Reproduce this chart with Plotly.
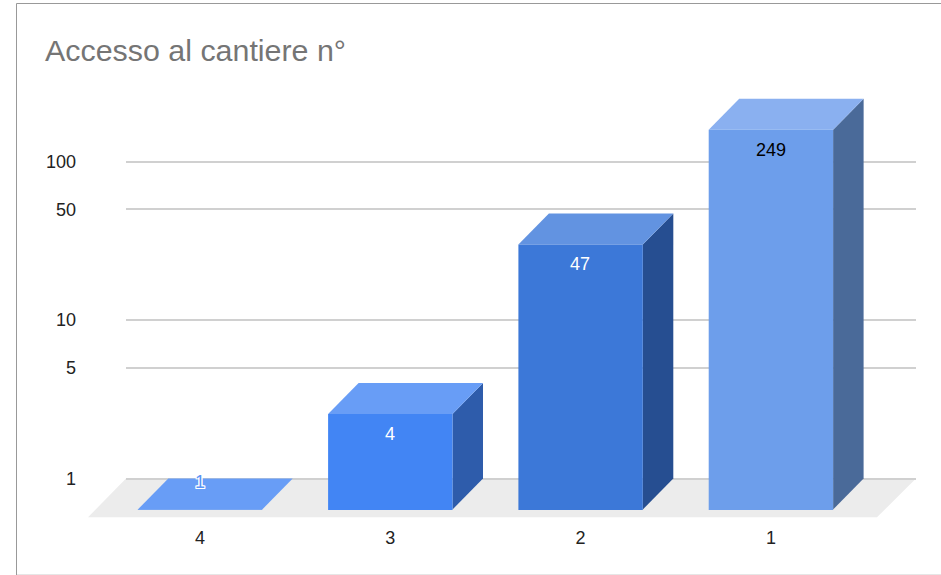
# plot.py
# Accesso al cantiere n° : colonne 3D finte su scala logaritmica
import math

import plotly.graph_objects as go

CATEGORIES = ["4", "3", "2", "1"]
VALUES = [1, 4, 47, 249]
Y_TICKS = [1, 5, 10, 50, 100]

FRONT_COLORS = ["#4285f4", "#4285f4", "#3c78d8", "#6d9eeb"]
TOP_COLORS = ["#689df6", "#689df6", "#6293e1", "#8ab0f0"]
SIDE_COLORS = ["#2e5cab", "#2e5cab", "#264e91", "#4a6a99"]
LABEL_COLORS = ["#5b95f5", "#ffffff", "#ffffff", "#000000"]

W, H = 941, 575
FONT = "Liberation Sans, Arial, sans-serif"

# geometria in pixel della finestra
STEP_X = 190.3       # distanza fra le categorie
DECADE = 158.5       # pixel per decade
FRONT_X0, FRONT_Y1 = 200.0, 509.5   # categoria 0 e valore 1 sul piano frontale
DEPTH_X, DEPTH_Y = 30.5, 31.0       # profondità delle colonne
BAR_WIDTH = 124.4 / STEP_X


def fx(px):
    return px / W


def fy(py):
    return 1 - py / H


# ogni riquadro: piano di fondo (griglia, facce) e piano frontale (colonne)
back_left, back_right, back_top, back_bottom = 126, 916, 90, 520
front_left, front_right, front_top, front_bottom = 88, 916, 90, 510

back_x0 = FRONT_X0 + DEPTH_X
back_y1 = FRONT_Y1 - DEPTH_Y
dx = DEPTH_X / STEP_X
log_dy = DEPTH_Y / DECADE

fig = go.Figure()

# facce superiori e laterali, sul piano di fondo
for i, value in enumerate(VALUES):
    left, right = i - BAR_WIDTH / 2, i + BAR_WIDTH / 2
    front_value = value / 10 ** log_dy
    base_back = 1
    base_front = 1 / 10 ** log_dy
    fig.add_trace(go.Scatter(
        x=[right - dx, right, right, right - dx, right - dx],
        y=[base_front, base_back, value, front_value, base_front],
        mode="lines", fill="toself", fillcolor=SIDE_COLORS[i],
        line=dict(width=0), hoverinfo="skip", showlegend=False,
    ))
    fig.add_trace(go.Scatter(
        x=[left - dx, left, right, right - dx, left - dx],
        y=[front_value, value, value, front_value, front_value],
        mode="lines", fill="toself", fillcolor=TOP_COLORS[i],
        line=dict(width=0), hoverinfo="skip", showlegend=False,
    ))

# facce frontali, sul piano frontale
fig.add_trace(go.Bar(
    x=list(range(len(VALUES))),
    y=VALUES,
    xaxis="x2",
    yaxis="y2",
    width=BAR_WIDTH,
    marker=dict(color=FRONT_COLORS, line=dict(width=0)),
    showlegend=False,
    hovertemplate="%{y}<extra></extra>",
))

# etichette dei valori (per il valore 1 il testo sta sulla faccia superiore)
for i, value in enumerate(VALUES):
    shift = 27.5 if value == 1 else -20
    font = dict(family=FONT, size=18, color=LABEL_COLORS[i])
    if value == 1:
        font["shadow"] = (
            "1px 0 0 #ffffff, -1px 0 0 #ffffff, 0 1px 0 #ffffff, 0 -1px 0 #ffffff, "
            "1px 1px 0 #ffffff, -1px -1px 0 #ffffff, 1px -1px 0 #ffffff, -1px 1px 0 #ffffff"
        )
    fig.add_annotation(
        x=i - 0.002, y=math.log10(value), xref="x2", yref="y2",
        text=str(value), showarrow=False, yshift=shift, font=font,
    )

# pavimento e cornice
floor_path = (
    f"M {fx(back_left)} {fy(back_y1)} L {fx(916)} {fy(back_y1)} "
    f"L {fx(877)} {fy(517.3)} L {fx(88)} {fy(517.3)} Z"
)
fig.add_shape(type="path", path=floor_path, xref="paper", yref="paper",
              fillcolor="#ececec", line=dict(width=0), layer="below")
fig.add_shape(type="line", xref="paper", yref="paper",
              x0=fx(16.5), x1=fx(941), y0=fy(3.5), y1=fy(3.5),
              line=dict(color="#999999", width=1), layer="below")
fig.add_shape(type="line", xref="paper", yref="paper",
              x0=fx(16.5), x1=fx(16.5), y0=fy(3.5), y1=fy(575),
              line=dict(color="#999999", width=1), layer="below")
fig.add_shape(type="line", xref="paper", yref="paper",
              x0=fx(17), x1=fx(941), y0=fy(574.5), y1=fy(574.5),
              line=dict(color="#e6e6e6", width=1), layer="below")

fig.update_layout(
    width=W,
    height=H,
    autosize=False,
    margin=dict(l=0, r=0, t=0, b=0),
    paper_bgcolor="#ffffff",
    plot_bgcolor="rgba(0,0,0,0)",
    font=dict(family=FONT, size=18, color="#222222"),
    title=dict(
        text="Accesso al cantiere n°",
        x=fx(45), xanchor="left", y=fy(50.5), yanchor="middle",
        font=dict(family=FONT, size=30.4, color="#757575"),
    ),
    xaxis=dict(
        domain=[fx(back_left), fx(back_right)],
        range=[(back_left - back_x0) / STEP_X, (back_right - back_x0) / STEP_X],
        showgrid=False, zeroline=False, showticklabels=False, ticks="",
    ),
    yaxis=dict(
        type="log",
        domain=[fy(back_bottom), fy(back_top)],
        range=[(back_y1 - back_bottom) / DECADE, (back_y1 - back_top) / DECADE],
        tickmode="array",
        tickvals=Y_TICKS,
        ticktext=[str(t) for t in Y_TICKS],
        showgrid=True, gridcolor="#d0d0d0", gridwidth=1.5, zeroline=False,
        ticks="", ticklabelstandoff=49,
        tickfont=dict(family=FONT, size=18, color="#222222"),
    ),
    xaxis2=dict(
        domain=[fx(front_left), fx(front_right)],
        range=[(front_left - FRONT_X0) / STEP_X, (front_right - FRONT_X0) / STEP_X],
        anchor="y2",
        tickmode="array",
        tickvals=list(range(len(CATEGORIES))),
        ticktext=CATEGORIES,
        showgrid=False, zeroline=False, ticks="", ticklabelstandoff=15,
        tickfont=dict(family=FONT, size=18, color="#222222"),
    ),
    yaxis2=dict(
        type="log",
        domain=[fy(front_bottom), fy(front_top)],
        range=[(FRONT_Y1 - front_bottom) / DECADE, (FRONT_Y1 - front_top) / DECADE],
        anchor="x2",
        showgrid=False, zeroline=False, showticklabels=False, ticks="",
    ),
)

fig.write_html(
    "out.html",
    config={"displayModeBar": False},
    post_script="document.body.style.margin='0';",
)
